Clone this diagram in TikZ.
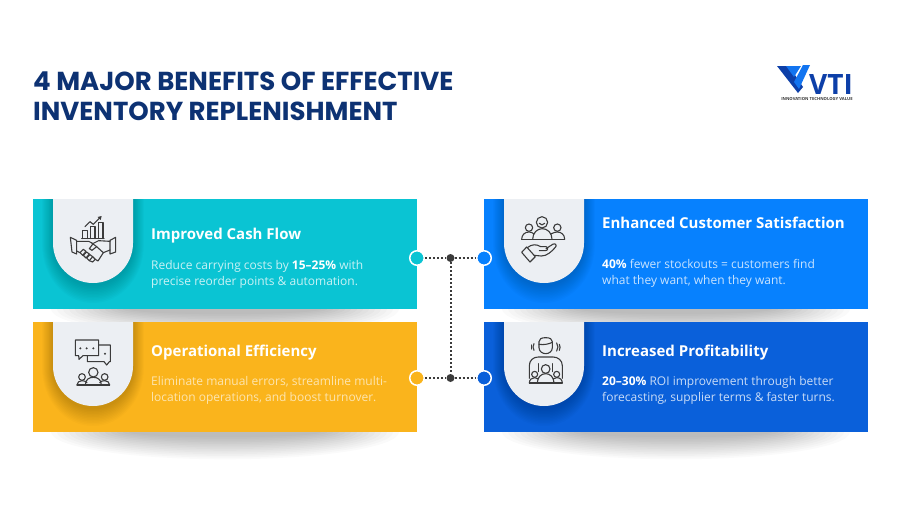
\documentclass[tikz,border=0pt]{standalone}
\usepackage{fontspec}
\setmainfont{Open Sans}
\newfontfamily\titlefont{Poppins}
\usetikzlibrary{calc}
\definecolor{navy}{HTML}{0D3273}
\definecolor{teal}{HTML}{0AC4D3}
\definecolor{amber}{HTML}{FAB41C}
\definecolor{sky}{HTML}{0781FE}
\definecolor{royal}{HTML}{0A60DA}
\definecolor{pill}{HTML}{ECEFF3}
\definecolor{ink}{HTML}{3B3B3B}
\definecolor{logoA}{HTML}{0D3FA8}
\definecolor{logoB}{HTML}{1274F0}
\tikzset{
  x=1pt,y=-1pt,
  headline/.style={anchor=west,inner sep=0,align=left,text=navy,font=\titlefont\fontsize{26}{30}\selectfont\bfseries},
  cardtitle/.style={anchor=west,inner sep=0,text=white,font=\fontsize{15}{17}\selectfont\bfseries},
  cardbody/.style={anchor=west,inner sep=0,align=left,text=white,font=\fontsize{12}{16}\selectfont},
  port/.style={circle,draw=white,line width=1.5pt,minimum size=14.5pt,inner sep=0},
  hub/.style={circle,fill=ink,minimum size=8pt,inner sep=0},
  wire/.style={draw=ink,line width=2pt,dash pattern=on 2pt off 2pt},
  ico/.style={draw=ink,line width=1.1pt,line join=round,line cap=round},
}
\newcommand{\cardshadow}[2]{% x, card top
  \foreach \k in {1,...,14}{
    \fill[black,opacity=.02] (#1+192,#2+112-2) ellipse [x radius=180-\k*6,y radius=29-\k*1.7];
  }
}
\newcommand{\pillpath}[2]{(#1,#2) -- (#1+80,#2) -- (#1+80,#2+44) arc[start angle=0,end angle=180,radius=40] -- cycle}
\newcommand{\cardbox}[3]{% x, top, colour
  \fill[#3] (#1,#2) rectangle ++(384,110);
  \begin{scope}
    \clip (#1,#2) rectangle ++(384,110);
    \foreach \k in {1,...,12}{
      \fill[black,opacity=.016] ($(#1+20,#2)+(-\k*.9,0)$) -- ++(80+\k*1.8,0) -- ++(0,46)
        arc[start angle=0,end angle=180,x radius=40+\k*.9,y radius=40+\k*1.5] -- cycle;
    }
    \fill[pill] \pillpath{#1+20}{#2};
  \end{scope}
}
\begin{document}
\begin{tikzpicture}
\useasboundingbox (0,0) rectangle (900,506);
\fill[white] (0,0) rectangle (900,506);
% shadows
\cardshadow{33}{199}
\cardshadow{484}{199}
\cardshadow{33}{322}
\cardshadow{484}{322}
% cards
\cardbox{33}{199}{teal}
\cardbox{484}{199}{sky}
\cardbox{33}{322}{amber}
\cardbox{484}{322}{royal}
% heading
\node[headline] (head) at (33,96) {4 MAJOR BENEFITS OF EFFECTIVE\\INVENTORY REPLENISHMENT};
% card texts
\node[cardtitle] (t1) at (151,236) {Improved Cash Flow};
\node[cardbody] (b1) at (151,274.5) {\textcolor{white!78!teal}{Reduce carrying costs by} \textbf{15–25\%} \textcolor{white!78!teal}{with}\\\textcolor{white!78!teal}{precise reorder points \& automation.}};
\node[cardtitle] (t2) at (151,353) {Operational Efficiency};
\node[cardbody] (b2) at (151,390.5) {\textcolor{white!65!amber}{Eliminate manual errors, streamline multi-}\\\textcolor{white!65!amber}{location operations, and boost turnover.}};
\node[cardtitle] (t3) at (602,222.5) {Enhanced Customer Satisfaction};
\node[cardbody] (b3) at (602,273.5) {\textbf{40\%} \textcolor{white!78!sky}{fewer stockouts = customers find}\\\textcolor{white!78!sky}{what they want, when they want.}};
\node[cardtitle] (t4) at (602,353) {Increased Profitability};
\node[cardbody] (b4) at (602,390.5) {\textbf{20–30\%} \textcolor{white!78!royal}{ROI improvement through better}\\\textcolor{white!78!royal}{forecasting, supplier terms \& faster turns.}};
% connectors
\node[hub] (h1) at (450.5,258) {};
\node[hub] (h2) at (450.5,378) {};
\node[port,fill=teal] (p1) at (417,258) {};
\node[port,fill=sky] (p2) at (484,258) {};
\node[port,fill=amber] (p3) at (417,378) {};
\node[port,fill=royal] (p4) at (484,378) {};
\draw[wire] (p1) -- (h1);
\draw[wire] (h1) -- (p2);
\draw[wire] (p3) -- (h2);
\draw[wire] (h2) -- (p4);
\draw[wire] (h1) -- (h2);
% icon: handshake
\begin{scope}[shift={(30,190)},x=1/3 pt,y=-1/3 pt]
  \draw[ico] (155,146) -- (222,146);
  \draw[ico] (158,146) |- (172,122) -- (172,146);
  \draw[ico] (181,146) |- (195,110) -- (195,146);
  \draw[ico] (205,146) |- (219,97) -- (219,146);
  \draw[ico] (165,110) -- (180,95) -- (190,103) -- (211,82);
  \fill[ink] (215,78) -- (203,81) -- (212,90) -- cycle;
  \draw[ico] (121,142) -- (140,151) -- (140,192) -- (126,186) -- cycle;
  \draw[ico] (257,142) -- (240,151) -- (240,192) -- (257,186) -- cycle;
  \draw[ico] (140,154) -- (176,154) -- (186,159);
  \draw[ico] (240,154) -- (206,152) -- (190,160) -- (178,176) -- (186,181) -- (200,170) -- (220,188) -- (240,180);
  \draw[ico] (140,183) -- (150,188);
  \draw[ico] (200,170) -- (184,158);
  \draw[ico] (150,188) -- (160,178) -- (168,184) -- (158,196) -- cycle;
  \draw[ico] (160,196) -- (170,186) -- (178,192) -- (168,204) -- cycle;
  \draw[ico] (170,204) -- (180,194) -- (188,200) -- (178,212) -- cycle;
  \draw[ico] (178,212) -- (188,216) -- (196,208) -- (188,200);
  \draw[ico] (196,208) -- (204,213) -- (220,188);
\end{scope}
% icon: chat and team
\begin{scope}[shift={(30,315)},x=1/3 pt,y=-1/3 pt]
  \draw[ico] (206,90) -- (206,75) -- (136,75) -- (136,122) -- (146,122) -- (147,133) -- (159,122) -- (206,122) -- cycle;
  \draw[ico] (206,90) -- (241,90) -- (241,140) -- (238,140) -- (230,150) -- (222,140) -- (172,140) -- (172,122);
  \fill[ink] (151,100) circle (5/3*2) (170,100) circle (5/3*2) (190,100) circle (5/3*2) (225,116) circle (5/3*2);
  \draw[ico] (190,172) circle [radius=14];
  \draw[ico] (156,186) circle [radius=10];
  \draw[ico] (224,186) circle [radius=10];
  \draw[ico] (166,210) .. controls (166,193) and (178,187) .. (190,187) .. controls (202,187) and (214,193) .. (214,210);
  \draw[ico] (141,210) .. controls (141,202) and (148,197) .. (156,197) .. controls (162,197) and (168,199) .. (171,203);
  \draw[ico] (239,210) .. controls (239,202) and (232,197) .. (224,197) .. controls (218,197) and (212,199) .. (209,203);
  \draw[ico] (141,210) -- (239,210);
\end{scope}
% icon: customers on a hand
\begin{scope}[shift={(480,190)},x=1/3 pt,y=-1/3 pt]
  \draw[ico] (186,97) circle [radius=17];
  \draw[ico] (178,100) .. controls (182,106) and (190,106) .. (194,100);
  \draw[ico] (147,113) circle [radius=11];
  \draw[ico] (232,113) circle [radius=11];
  \draw[ico] (158,148) .. controls (158,128) and (172,116) .. (187,116) .. controls (202,116) and (216,128) .. (216,148);
  \draw[ico] (125,148) .. controls (125,134) and (135,126) .. (147,126) .. controls (153,126) and (158,128) .. (162,132);
  \draw[ico] (254,148) .. controls (254,134) and (244,126) .. (232,126) .. controls (226,126) and (221,128) .. (212,132);
  \draw[ico] (125,148) -- (254,148);
  \draw[ico] (125,187) -- (140,171) -- (166,200) -- (150,216) -- cycle;
  \draw[ico] (142,173) .. controls (155,162) and (170,162) .. (182,170) -- (198,170) .. controls (206,172) and (204,182) .. (196,182) -- (178,182);
  \draw[ico] (198,176) -- (218,163) .. controls (226,158) and (232,166) .. (226,172) .. controls (214,186) and (200,198) .. (184,198) -- (162,196);
\end{scope}
% icon: leader and team
\begin{scope}[shift={(480,315)},x=1/3 pt,y=-1/3 pt]
  \draw[ico] (177,80) .. controls (177,72) and (184,68) .. (197,68) .. controls (210,68) and (217,72) .. (217,80) -- (217,98) .. controls (217,110) and (206,116) .. (197,116) .. controls (188,116) and (177,110) .. (177,98) -- cycle;
  \draw[ico] (177,88) .. controls (190,90) and (205,88) .. (217,82);
  \draw[ico] (162,86) .. controls (158,92) and (158,100) .. (162,106);
  \draw[ico] (154,90) .. controls (152,94) and (152,98) .. (154,102);
  \draw[ico] (230,84) .. controls (235,92) and (235,100) .. (230,108);
  \draw[ico] (238,88) .. controls (241,94) and (241,100) .. (238,106);
  \draw[ico] (148,190) -- (148,152) .. controls (148,136) and (160,126) .. (175,126) -- (219,126) .. controls (234,126) and (247,136) .. (247,152) -- (247,190);
  \draw[ico] (176,146) -- (176,170);
  \draw[ico] (218,146) -- (218,170);
  \draw[ico] (197,162) circle [radius=13];
  \draw[ico] (164,178) circle [radius=9];
  \draw[ico] (230,178) circle [radius=9];
  \draw[ico] (172,204) .. controls (172,186) and (184,176) .. (197,176) .. controls (210,176) and (222,186) .. (222,204);
  \draw[ico] (148,204) .. controls (148,194) and (155,188) .. (164,188) .. controls (168,188) and (172,190) .. (175,192);
  \draw[ico] (247,204) .. controls (247,194) and (240,188) .. (230,188) .. controls (226,188) and (222,190) .. (219,192);
  \draw[ico] (148,204) -- (247,204);
\end{scope}
% logo
\fill[logoA] (777,66) -- (789,66) -- (803,87) -- (798,93) -- cycle;
\fill[logoB] (803,65) -- (810,65) -- (799,89) -- (794,82) -- cycle;
\fill[logoB] (786,66) -- (801,66) -- (794,77) -- cycle;
\node[anchor=base west,inner sep=0,text=logoA,text depth=0pt,text height=20pt,font=\fontsize{28}{20}\selectfont\bfseries] (vti) at (809,94.5) {VTI};
\node[anchor=center,inner sep=0,text=ink,text height=3pt,text depth=0pt,font=\fontsize{4.2}{4.5}\selectfont\bfseries] (tag) at (817,98.5) {INNOVATION TECHNOLOGY VALUE};
\end{tikzpicture}
\end{document}
